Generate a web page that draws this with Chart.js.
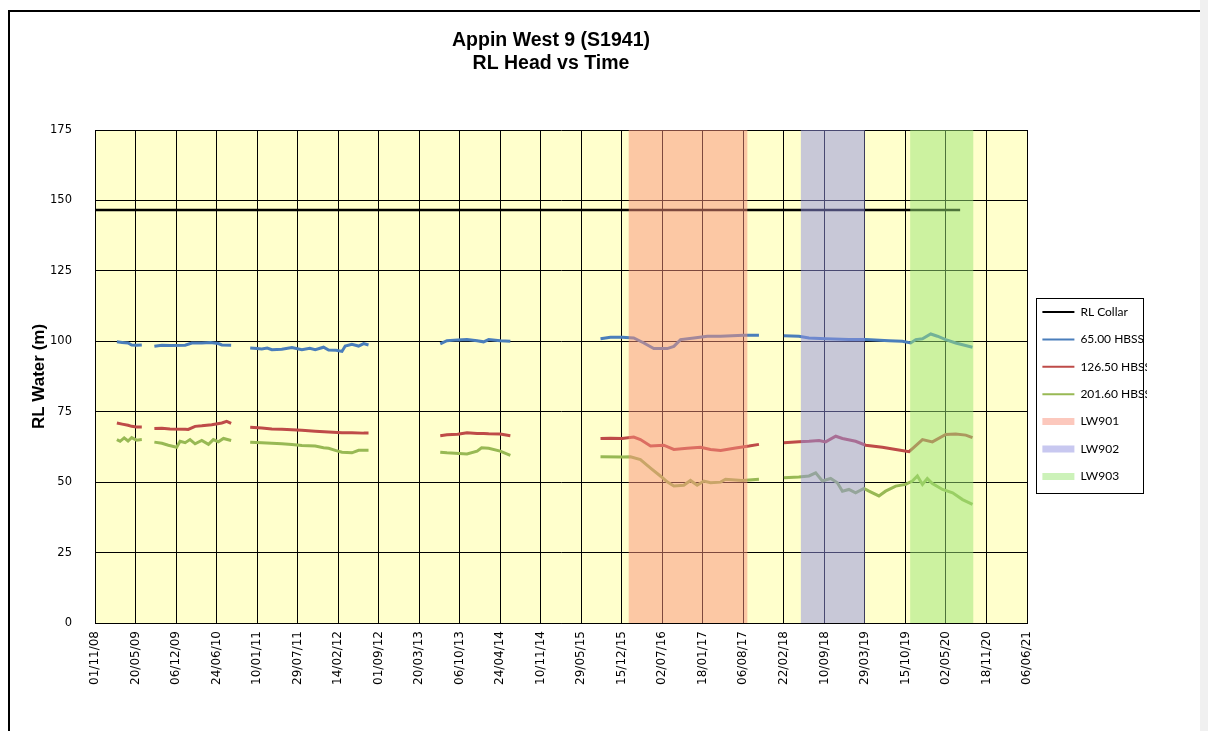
<!DOCTYPE html>
<html>
<head>
<meta charset="utf-8">
<title>Appin West 9 (S1941) - RL Head vs Time</title>
<script src="https://cdn.jsdelivr.net/npm/chart.js@4.4.1/dist/chart.umd.min.js"></script>
<style>
  html, body { margin: 0; padding: 0; background: #fff; overflow: hidden; }
  #frame { position: absolute; left: 8px; top: 10px; width: 1192px; height: 740px;
           border-left: 2px solid #000; border-top: 2px solid #000; box-sizing: border-box; }
  #edge { position: absolute; left: 1200px; top: 0; width: 8px; height: 731px; background: #f0f0f0; }
  #chart { position: absolute; left: 0; top: 0; }
</style>
</head>
<body>
<div id="frame"></div>
<div id="edge"></div>
<canvas id="chart" width="1208" height="731"></canvas>
<script>
// Achsen
const xTickLabels = ['01/11/08', '20/05/09', '06/12/09', '24/06/10', '10/01/11', '29/07/11',
  '14/02/12', '01/09/12', '20/03/13', '06/10/13', '24/04/14', '10/11/14', '29/05/15',
  '15/12/15', '02/07/16', '18/01/17', '06/08/17', '22/02/18', '10/09/18', '29/03/19',
  '15/10/19', '02/05/20', '18/11/20', '06/06/21'];
const yMin = 0;
const yMax = 175;
const yStep = 25;

// Messreihen: [Datum, RL in m], null = Datenluecke
const rlCollar = [['01/11/08', 146.6], ['11/07/20', 146.6]];

const hbss65 = [
  ['17/02/09', 99.8], ['15/03/09', 99.6], ['13/04/09', 99.4], ['01/05/09', 98.7], ['25/05/09', 98.6], ['20/06/09', 98.7],
  ['20/07/09', null],
  ['21/08/09', 98.2], ['27/09/09', 98.6], ['06/11/09', 98.5], ['20/01/10', 98.6], ['22/02/10', 99.4], ['12/04/10', 99.4],
  ['25/05/10', 99.6], ['03/07/10', 99.2], ['20/07/10', 98.7], ['04/09/10', 98.6],
  ['20/10/10', null],
  ['07/12/10', 97.6], ['10/01/11', 97.4], ['02/02/11', 97.3], ['01/03/11', 97.6], ['24/03/11', 97.0], ['12/05/11', 97.2],
  ['01/07/11', 97.8], ['19/08/11', 97.0], ['27/09/11', 97.5], ['24/10/11', 97.0], ['04/12/11', 97.9], ['29/12/11', 96.9],
  ['04/02/12', 96.8], ['04/03/12', 96.4], ['20/03/12', 98.3], ['22/04/12', 98.9], ['25/05/12', 98.3], ['19/06/12', 99.2],
  ['13/07/12', 98.7],
  ['01/02/13', null],
  ['02/07/13', 99.1], ['04/08/13', 100.2], ['26/09/13', 100.5], ['11/11/13', 100.6], ['31/12/13', 100.2], ['01/02/14', 99.8],
  ['26/02/14', 100.6], ['24/04/14', 100.2], ['13/06/14', 100.0],
  ['01/01/15', null],
  ['01/09/15', 100.9], ['20/10/15', 101.4], ['17/12/15', 101.4], ['12/02/16', 101.2], ['02/04/16', 99.4], ['21/05/16', 97.4],
  ['26/07/16', 97.4], ['28/08/16', 98.2], ['30/09/16', 100.6], ['05/12/16', 101.2], ['09/02/17', 101.8], ['16/04/17', 101.8],
  ['12/06/17', 102.0], ['06/08/17', 102.1], ['22/10/17', 102.1],
  ['01/01/18', null],
  ['22/02/18', 102.0], ['07/05/18', 101.8], ['26/06/18', 101.2], ['16/09/18', 100.9], ['09/01/19', 100.6], ['02/04/19', 100.6],
  ['26/07/19', 100.2], ['30/09/19', 100.0], ['10/11/19', 99.4], ['05/12/19', 100.6], ['07/01/20', 100.9], ['17/02/20', 102.6],
  ['21/03/20', 101.8], ['01/05/20', 100.6], ['19/06/20', 99.4], ['10/09/20', 97.9]
];

const hbss126 = [
  ['17/02/09', 71.0], ['15/03/09', 70.6], ['13/04/09', 70.2], ['01/05/09', 69.8], ['25/05/09', 69.6], ['20/06/09', 69.6],
  ['20/07/09', null],
  ['21/08/09', 69.0], ['27/09/09', 69.1], ['06/11/09', 68.9], ['20/01/10', 68.8], ['04/02/10', 68.7], ['10/03/10', 69.8],
  ['12/04/10', 70.0], ['31/05/10', 70.4], ['20/07/10', 71.0], ['13/08/10', 71.6], ['04/09/10', 70.9],
  ['20/10/10', null],
  ['07/12/10', 69.5], ['02/02/11', 69.2], ['24/03/11', 68.9], ['12/05/11', 68.8], ['01/07/11', 68.6], ['19/08/11', 68.4],
  ['24/10/11', 68.1], ['29/12/11', 67.8], ['04/03/12', 67.5], ['22/04/12', 67.5], ['19/06/12', 67.4], ['13/07/12', 67.4],
  ['01/02/13', null],
  ['02/07/13', 66.5], ['04/08/13', 66.8], ['26/09/13', 67.0], ['11/11/13', 67.5], ['31/12/13', 67.3], ['01/02/14', 67.3],
  ['26/02/14', 67.2], ['24/04/14', 67.1], ['13/06/14', 66.5],
  ['01/01/15', null],
  ['01/09/15', 65.5], ['20/10/15', 65.6], ['17/12/15', 65.5], ['12/02/16', 66.0], ['16/03/16', 65.1], ['05/05/16', 62.8],
  ['09/07/16', 63.1], ['28/08/16', 61.6], ['02/11/16', 62.0], ['07/01/17', 62.4], ['25/02/17', 61.6], ['16/04/17', 61.2],
  ['29/06/17', 62.1], ['03/09/17', 62.8], ['22/10/17', 63.4],
  ['01/01/18', null],
  ['22/02/18', 64.0], ['07/05/18', 64.3], ['26/06/18', 64.5], ['15/08/18', 64.8], ['16/09/18', 64.3], ['05/11/18', 66.3],
  ['08/12/18', 65.5], ['11/02/19', 64.5], ['02/04/19', 63.1], ['23/06/19', 62.4], ['28/08/19', 61.6], ['02/11/19', 60.8],
  ['27/11/19', 62.4], ['07/01/20', 65.1], ['25/02/20', 64.3], ['01/05/20', 66.9], ['19/06/20', 67.1], ['08/08/20', 66.7],
  ['10/09/20', 65.8]
];

const hbss201 = [
  ['17/02/09', 65.1], ['05/03/09', 64.5], ['25/03/09', 65.7], ['13/04/09', 64.6], ['01/05/09', 65.8], ['25/05/09', 64.9],
  ['20/06/09', 65.1],
  ['20/07/09', null],
  ['21/08/09', 64.2], ['27/09/09', 63.8], ['29/10/09', 63.1], ['09/12/09', 62.4], ['26/12/09', 64.5], ['20/01/10', 64.0],
  ['13/02/10', 65.1], ['10/03/10', 63.6], ['12/04/10', 64.8], ['15/05/10', 63.4], ['08/06/10', 65.1], ['03/07/10', 64.3],
  ['28/07/10', 65.5], ['04/09/10', 64.8],
  ['20/10/10', null],
  ['07/12/10', 64.2], ['02/02/11', 64.0], ['24/03/11', 63.8], ['12/05/11', 63.6], ['01/07/11', 63.4], ['19/08/11', 63.0],
  ['24/10/11', 62.8], ['04/12/11', 62.2], ['29/12/11', 62.0], ['04/02/12', 61.2], ['04/03/12', 60.6], ['22/04/12', 60.4],
  ['25/05/12', 61.3], ['19/06/12', 61.3], ['13/07/12', 61.3],
  ['01/02/13', null],
  ['02/07/13', 60.6], ['04/08/13', 60.4], ['11/11/13', 60.0], ['31/12/13', 61.0], ['22/01/14', 62.2], ['26/02/14', 62.0],
  ['24/04/14', 61.0], ['13/06/14', 59.5],
  ['01/01/15', null],
  ['01/09/15', 59.0], ['17/12/15', 58.9], ['27/01/16', 59.0], ['16/03/16', 58.0], ['05/05/16', 55.0], ['24/06/16', 52.1],
  ['26/07/16', 50.1], ['28/08/16', 48.6], ['16/10/16', 48.9], ['18/11/16', 50.6], ['21/12/16', 48.9], ['23/01/17', 50.4],
  ['25/02/17', 49.8], ['16/04/17', 50.0], ['10/05/17', 51.0], ['31/07/17', 50.6], ['22/10/17', 51.0],
  ['01/01/18', null],
  ['22/02/18', 51.6], ['07/05/18', 51.8], ['26/06/18', 52.2], ['29/07/18', 53.3], ['31/08/18', 50.4], ['11/10/18', 51.3],
  ['13/11/18', 49.8], ['08/12/18', 46.8], ['09/01/19', 47.4], ['11/02/19', 46.2], ['24/03/19', 47.8], ['18/04/19', 46.8],
  ['06/06/19', 45.1], ['09/07/19', 46.8], ['28/08/19', 48.6], ['16/10/19', 49.2], ['18/11/19', 50.4], ['13/12/19', 52.2],
  ['07/01/20', 49.2], ['31/01/20', 51.3], ['25/02/20', 49.5], ['15/04/20', 47.4], ['04/06/20', 46.2], ['23/07/20', 43.8],
  ['10/09/20', 42.1]
];

// Abbauzeitraeume der Strebe (Beginn, Ende)
const lw901 = ['17/01/16', '27/08/17'];
const lw902 = ['16/05/18', '29/03/19'];
const lw903 = ['07/11/19', '15/09/20'];

// dd/mm/yy -> Zeitstempel
function toTime(s) {
  const [d, m, y] = s.split('/').map(Number);
  return Date.UTC(2000 + y, m - 1, d);
}

function seriesPoints(rows) {
  return rows.map(([d, v]) => ({ x: toTime(d), y: v }));
}

function panelPoints(range) {
  return range.map(d => ({ x: toTime(d), y: yMax }));
}

function lineSet(label, rows, color, width) {
  return {
    label, data: seriesPoints(rows), borderColor: color, backgroundColor: color,
    borderWidth: width, pointRadius: 0, fill: false, tension: 0
  };
}

function panelSet(label, range, color) {
  return {
    label, data: panelPoints(range), backgroundColor: color, borderColor: 'rgba(0,0,0,0)',
    borderWidth: 0, pointRadius: 0, fill: 'origin', order: -1, isPanel: true
  };
}

// Hintergrund der Zeichenflaeche
const plotBackground = {
  id: 'plotBackground',
  beforeDraw(chart) {
    const { ctx, chartArea: a } = chart;
    ctx.save();
    ctx.fillStyle = '#FFFFCC';
    ctx.fillRect(a.left, a.top, a.right - a.left, a.bottom - a.top);
    ctx.restore();
  }
};

// Rahmen um die Legende (rechts wie im Original am Legendenrand)
const legendFrame = {
  id: 'legendFrame',
  afterDraw(chart) {
    const legend = chart.legend;
    const boxes = legend && legend.legendHitBoxes;
    if (!boxes || !boxes.length) return;
    const left = Math.min(...boxes.map(b => b.left)) - 6;
    const top = Math.min(...boxes.map(b => b.top)) - 8.5;
    const right = legend.right - 4;
    const bottom = Math.max(...boxes.map(b => b.top + b.height)) + 10;
    const ctx = chart.ctx;
    ctx.save();
    ctx.strokeStyle = '#000';
    ctx.lineWidth = 1;
    ctx.strokeRect(Math.round(left) + 0.5, Math.round(top) + 0.5, Math.round(right - left), Math.round(bottom - top));
    ctx.restore();
  }
};

Chart.defaults.font.family = 'DejaVu Sans';
Chart.defaults.color = '#000';

new Chart(document.getElementById('chart'), {
  type: 'line',
  data: {
    datasets: [
      lineSet('RL Collar', rlCollar, '#000000', 2.5),
      lineSet('65.00 HBSS', hbss65, '#4A7EBB', 3),
      lineSet('126.50 HBSS', hbss126, '#BE4B48', 3),
      lineSet('201.60 HBSS', hbss201, '#98B954', 3),
      panelSet('LW901', lw901, 'rgba(249,145,124,0.5)'),
      panelSet('LW902', lw902, 'rgba(145,145,226,0.5)'),
      panelSet('LW903', lw903, 'rgba(153,229,116,0.5)')
    ]
  },
  options: {
    responsive: false,
    animation: false,
    events: [],
    layout: { padding: { left: -45, right: 61, top: 28.4, bottom: -29 } },
    scales: {
      x: {
        type: 'linear',
        min: toTime(xTickLabels[0]),
        max: toTime(xTickLabels[xTickLabels.length - 1]),
        afterBuildTicks: (axis) => {
          axis.ticks = xTickLabels.map(s => ({ value: toTime(s) }));
        },
        afterFit: (axis) => { axis.height = 137; },
        ticks: {
          autoSkip: false,
          minRotation: 90,
          maxRotation: 90,
          padding: 8,
          font: { size: 12 },
          callback: (value, index) => xTickLabels[index]
        },
        grid: { color: '#000', lineWidth: 1, drawTicks: false },
        border: { color: '#000', width: 1 }
      },
      y: {
        min: yMin,
        max: yMax,
        afterFit: (axis) => { axis.width = 140; },
        ticks: { stepSize: yStep, padding: 23, font: { size: 11.5 } },
        grid: { color: '#000', lineWidth: 1, drawTicks: false },
        border: { color: '#000', width: 1 },
        title: {
          display: true,
          text: 'RL Water (m)',
          font: { family: 'Liberation Sans', size: 17, weight: 'bold' },
          padding: { top: 74.3, bottom: 0 }
        }
      }
    },
    plugins: {
      title: {
        display: true,
        text: ['Appin West 9 (S1941)', 'RL Head vs Time'],
        color: '#000',
        font: { family: 'Liberation Sans', size: 19.5, weight: 'bold', lineHeight: 1.16 },
        padding: { top: 1, bottom: 55.36 }
      },
      legend: {
        position: 'right',
        maxWidth: 120,
        labels: {
          usePointStyle: true,
          pointStyle: 'line',
          pointStyleWidth: 32,
          padding: 15.4,
          color: '#000',
          font: { family: 'Lato', size: 12 },
          sort: (a, b) => a.datasetIndex - b.datasetIndex,
          generateLabels: (chart) => {
            const items = Chart.defaults.plugins.legend.labels.generateLabels(chart);
            items.forEach(item => {
              const ds = chart.data.datasets[item.datasetIndex];
              item.pointStyle = 'line';
              item.strokeStyle = ds.isPanel ? ds.backgroundColor : ds.borderColor;
              item.lineWidth = ds.isPanel ? 7 : 2;
            });
            return items;
          }
        }
      },
      tooltip: { enabled: false }
    }
  },
  plugins: [plotBackground, legendFrame]
});
</script>
</body>
</html>
